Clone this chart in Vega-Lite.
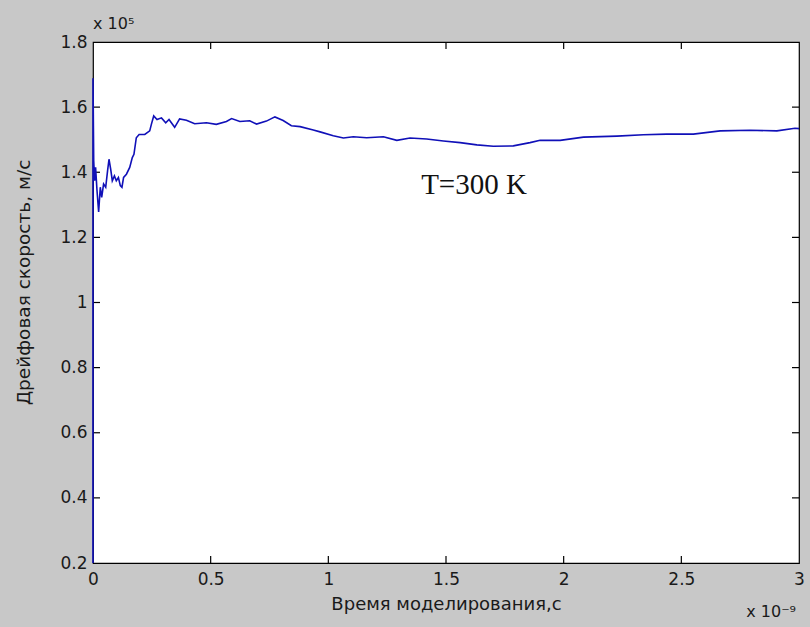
{
  "$schema": "https://vega.github.io/schema/vega-lite/v6.json",
  "width": 706,
  "height": 521,
  "autosize": {"type": "none"},
  "padding": {"left": 93, "top": 42, "right": 11, "bottom": 64},
  "background": "#c8c8c8",
  "config": {
    "view": {"fill": "white", "stroke": "#000000", "strokeWidth": 1.2},
    "axis": {
      "domain": false,
      "ticks": false,
      "grid": false,
      "labelFont": "DejaVu Sans",
      "labelFontSize": 17,
      "labelColor": "#1a1a1a",
      "titleFont": "DejaVu Sans",
      "titleFontSize": 18,
      "titleFontWeight": "normal",
      "titleColor": "#1a1a1a"
    }
  },
  "datasets": {
    "drift": [
      {"t": 0.0, "v": 0.2},
      {"t": 0.0, "v": 1.689},
      {"t": 0.003, "v": 1.435},
      {"t": 0.007, "v": 1.374},
      {"t": 0.011, "v": 1.415},
      {"t": 0.017, "v": 1.344},
      {"t": 0.024, "v": 1.278},
      {"t": 0.031, "v": 1.354},
      {"t": 0.037, "v": 1.323},
      {"t": 0.045, "v": 1.364},
      {"t": 0.054, "v": 1.354},
      {"t": 0.062, "v": 1.405},
      {"t": 0.068, "v": 1.44},
      {"t": 0.075, "v": 1.41},
      {"t": 0.082, "v": 1.374},
      {"t": 0.091, "v": 1.389},
      {"t": 0.099, "v": 1.374},
      {"t": 0.108, "v": 1.384},
      {"t": 0.116, "v": 1.359},
      {"t": 0.123, "v": 1.354},
      {"t": 0.13, "v": 1.384},
      {"t": 0.142, "v": 1.394},
      {"t": 0.156, "v": 1.415},
      {"t": 0.167, "v": 1.445},
      {"t": 0.174, "v": 1.455},
      {"t": 0.184, "v": 1.506},
      {"t": 0.196, "v": 1.516},
      {"t": 0.22, "v": 1.516},
      {"t": 0.241, "v": 1.527},
      {"t": 0.248, "v": 1.547},
      {"t": 0.258, "v": 1.573},
      {"t": 0.272, "v": 1.562},
      {"t": 0.291, "v": 1.567},
      {"t": 0.309, "v": 1.552},
      {"t": 0.323, "v": 1.562},
      {"t": 0.347, "v": 1.538},
      {"t": 0.368, "v": 1.564},
      {"t": 0.397, "v": 1.56},
      {"t": 0.432, "v": 1.549},
      {"t": 0.482, "v": 1.552},
      {"t": 0.524, "v": 1.547},
      {"t": 0.567, "v": 1.556},
      {"t": 0.589, "v": 1.565},
      {"t": 0.624, "v": 1.556},
      {"t": 0.666, "v": 1.558},
      {"t": 0.695, "v": 1.548},
      {"t": 0.737, "v": 1.557},
      {"t": 0.773, "v": 1.57},
      {"t": 0.808, "v": 1.559},
      {"t": 0.843, "v": 1.543},
      {"t": 0.88, "v": 1.54},
      {"t": 0.936, "v": 1.53},
      {"t": 0.965, "v": 1.524},
      {"t": 1.021, "v": 1.512},
      {"t": 1.064, "v": 1.505},
      {"t": 1.106, "v": 1.509},
      {"t": 1.163, "v": 1.506},
      {"t": 1.234, "v": 1.509},
      {"t": 1.291, "v": 1.498},
      {"t": 1.347, "v": 1.505},
      {"t": 1.418, "v": 1.502},
      {"t": 1.489, "v": 1.496},
      {"t": 1.56, "v": 1.491},
      {"t": 1.631, "v": 1.484},
      {"t": 1.701, "v": 1.48},
      {"t": 1.786, "v": 1.481},
      {"t": 1.857, "v": 1.491},
      {"t": 1.9, "v": 1.498},
      {"t": 1.985, "v": 1.498},
      {"t": 2.084, "v": 1.508},
      {"t": 2.226, "v": 1.511},
      {"t": 2.339, "v": 1.515},
      {"t": 2.438, "v": 1.517},
      {"t": 2.551, "v": 1.517},
      {"t": 2.665, "v": 1.527},
      {"t": 2.792, "v": 1.529},
      {"t": 2.906, "v": 1.527},
      {"t": 2.983, "v": 1.535},
      {"t": 3.0, "v": 1.534}
    ],
    "xticks": [
      {"t": 0.5, "v": 0.2}, {"t": 1, "v": 0.2}, {"t": 1.5, "v": 0.2}, {"t": 2, "v": 0.2}, {"t": 2.5, "v": 0.2},
      {"t": 0.5, "v": 1.8}, {"t": 1, "v": 1.8}, {"t": 1.5, "v": 1.8}, {"t": 2, "v": 1.8}, {"t": 2.5, "v": 1.8}
    ],
    "yticks": [
      {"t": 0, "v": 0.4}, {"t": 0, "v": 0.6}, {"t": 0, "v": 0.8}, {"t": 0, "v": 1.0}, {"t": 0, "v": 1.2}, {"t": 0, "v": 1.4}, {"t": 0, "v": 1.6},
      {"t": 3, "v": 0.4}, {"t": 3, "v": 0.6}, {"t": 3, "v": 0.8}, {"t": 3, "v": 1.0}, {"t": 3, "v": 1.2}, {"t": 3, "v": 1.4}, {"t": 3, "v": 1.6}
    ],
    "note": [{"t": 1.619, "v": 1.332, "label": "T=300 K"}],
    "exp": [
      {"t": 0, "v": 1.8, "label": "x 10⁵", "where": "y"},
      {"t": 3, "v": 0.2, "label": "x 10⁻⁹", "where": "x"}
    ]
  },
  "layer": [
    {
      "data": {"name": "xticks"},
      "mark": {"type": "tick", "orient": "vertical", "color": "#000000", "size": 14, "thickness": 1.2, "opacity": 1, "clip": true},
      "encoding": {
        "x": {"field": "t", "type": "quantitative"},
        "y": {"field": "v", "type": "quantitative"}
      }
    },
    {
      "data": {"name": "yticks"},
      "mark": {"type": "tick", "orient": "horizontal", "color": "#000000", "size": 14, "thickness": 1.2, "opacity": 1, "clip": true},
      "encoding": {
        "x": {"field": "t", "type": "quantitative"},
        "y": {"field": "v", "type": "quantitative"}
      }
    },
    {
      "data": {"name": "drift"},
      "mark": {"type": "line", "color": "#1010b8", "strokeWidth": 1.6, "clip": false},
      "encoding": {
        "x": {
          "field": "t", "type": "quantitative",
          "scale": {"domain": [0, 3], "nice": false, "zero": false},
          "axis": {
            "orient": "bottom",
            "values": [0, 0.5, 1, 1.5, 2, 2.5, 3],
            "format": "~g",
            "labelPadding": 8,
            "labelFlush": false,
            "title": "Время моделирования,с",
            "titlePadding": 8
          }
        },
        "y": {
          "field": "v", "type": "quantitative",
          "scale": {"domain": [0.2, 1.8], "nice": false, "zero": false},
          "axis": {
            "orient": "left",
            "values": [0.2, 0.4, 0.6, 0.8, 1, 1.2, 1.4, 1.6, 1.8],
            "format": "~g",
            "labelPadding": 6,
            "labelFlush": false,
            "title": "Дрейфовая скорость, м/с",
            "titleFontSize": 18.5,
            "titleX": -60,
            "titleY": 240,
            "titleBaseline": "bottom"
          }
        }
      }
    },
    {
      "data": {"name": "note"},
      "mark": {"type": "text", "font": "Liberation Serif", "fontSize": 29, "color": "#111111", "align": "center", "baseline": "alphabetic"},
      "encoding": {
        "x": {"field": "t", "type": "quantitative"},
        "y": {"field": "v", "type": "quantitative"},
        "text": {"field": "label"}
      }
    },
    {
      "data": {"name": "exp"},
      "transform": [{"filter": "datum.where == 'y'"}],
      "mark": {"type": "text", "font": "DejaVu Sans", "fontSize": 16, "color": "#1a1a1a", "align": "left", "baseline": "alphabetic", "dy": -13, "dx": 0},
      "encoding": {
        "x": {"field": "t", "type": "quantitative"},
        "y": {"field": "v", "type": "quantitative"},
        "text": {"field": "label"}
      }
    },
    {
      "data": {"name": "exp"},
      "transform": [{"filter": "datum.where == 'x'"}],
      "mark": {"type": "text", "font": "DejaVu Sans", "fontSize": 16, "color": "#1a1a1a", "align": "right", "baseline": "alphabetic", "dy": 54, "dx": -3},
      "encoding": {
        "x": {"field": "t", "type": "quantitative"},
        "y": {"field": "v", "type": "quantitative"},
        "text": {"field": "label"}
      }
    }
  ]
}
